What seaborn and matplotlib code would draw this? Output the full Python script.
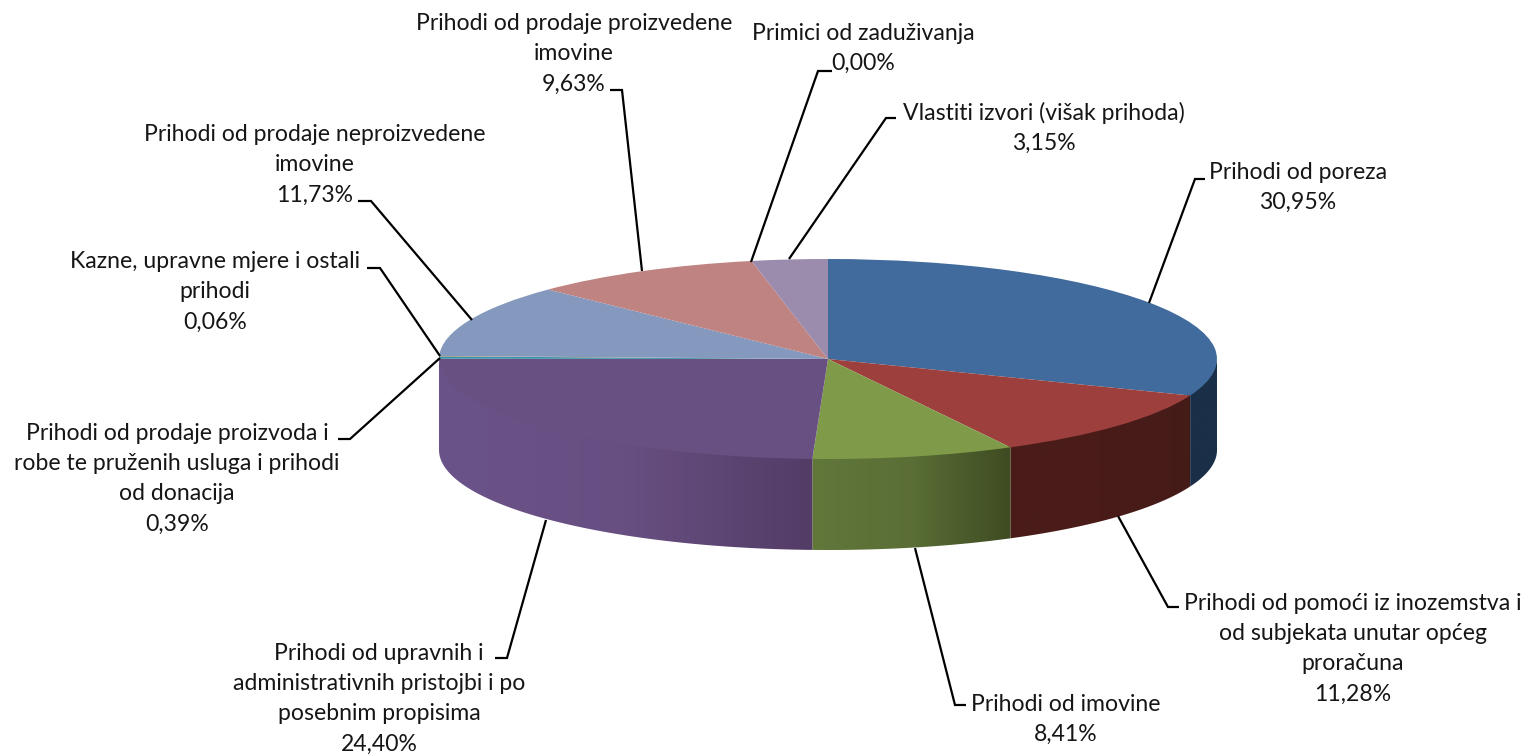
import numpy as np
import matplotlib
matplotlib.use("Agg")
import matplotlib.pyplot as plt
from matplotlib.patches import Polygon
import seaborn as sns

# ---- data ----
names = [
    "Prihodi od poreza",
    "Prihodi od pomoći iz inozemstva i\nod subjekata unutar općeg\nproračuna",
    "Prihodi od imovine",
    "Prihodi od upravnih i\nadministrativnih pristojbi i po\nposebnim propisima",
    "Prihodi od prodaje proizvoda i\nrobe te pruženih usluga i prihodi\nod donacija",
    "Kazne, upravne mjere i ostali\nprihodi",
    "Prihodi od prodaje neproizvedene\nimovine",
    "Prihodi od prodaje proizvedene\nimovine",
    "Primici od zaduživanja",
    "Vlastiti izvori (višak prihoda)",
]
shares = [30.95, 11.28, 8.41, 24.40, 0.39, 0.06, 11.73, 9.63, 0.00, 3.15]

# ---- styles ----
top_colors = ["#406b9c", "#9c3f3d", "#7f9b49", "#695082", "#3a93aa",
              "#db843d", "#8499bd", "#bf8381", "#a4b9d8", "#9b8cae"]
side_left = ["#1a2f48", "#4a1c19", "#62773a", "#6a5389", "#3a93aa",
             "#db843d", "#8499bd", "#bf8381", "#a4b9d8", "#9b8cae"]
side_mid = ["#1a2f48", "#4a1c19", "#5a6e36", "#684f82", "#3a93aa",
            "#db843d", "#8499bd", "#bf8381", "#a4b9d8", "#9b8cae"]
side_right = ["#1a2f48", "#451b18", "#3f4c22", "#533c66", "#3a93aa",
              "#db843d", "#8499bd", "#bf8381", "#a4b9d8", "#9b8cae"]

W, H = 1529, 756
CX, CY, RX, RY, DEPTH = 828.0, 359.0, 389.0, 100.0, 91.0

# label layout in figure pixels: text centre x, first line y
label_pos = [(1298, 172), (1353, 603), (1066, 704), (379, 653), (177, 433),
             (215, 261), (315, 134), (574, 23), (863, 33), (1044, 112)]
leaders = [
    [(1205, 179), (1195, 179), (1149, 303)],
    [(1179, 607), (1168, 607), (1118, 516)],
    [(966, 705), (955, 705), (915, 548)],
    [(495, 658), (507, 658), (546, 520)],
    [(338, 439), (350, 439), (440, 358)],
    [(367, 268), (380, 268), (440, 356)],
    [(358, 201), (371, 201), (472, 320)],
    [(610, 90), (622, 90), (642, 271)],
    [(832, 71), (818, 71), (751, 262)],
    [(896, 118), (886, 118), (789, 259)],
]

sns.set_theme(style="white")
plt.rcParams["font.family"] = ["Lato", "DejaVu Sans"]

fig = plt.figure(figsize=(W / 100, H / 100), dpi=100, facecolor="white")
ax = fig.add_axes([0, 0, 1, 1])

# top face through the library's pie
wedges, _ = ax.pie(shares, colors=top_colors, startangle=90, counterclock=False,
                   radius=1, wedgeprops=dict(linewidth=0, zorder=3))

# side wall computed from the same shares: a gradient clipped to each wall
depth = DEPTH / RY
edges = 90 - np.cumsum([0] + shares) * 3.6
for i in range(len(shares)):
    a0, a1 = edges[i], edges[i + 1]
    lo, hi = max(a1, -180), min(a0, 0)
    if hi <= lo:
        continue
    th = np.radians(np.linspace(hi, lo, 200))
    x, y = np.cos(th), np.sin(th)
    outline = np.r_[np.c_[x, y + 0.02], np.c_[x[::-1], y[::-1] - depth]]
    grad = np.array(sns.blend_palette([side_left[i], side_mid[i], side_right[i]], 128))
    img = ax.imshow(grad[None, :, :], extent=[x.min(), x.max(), -1 - depth, 0],
                    aspect="auto", interpolation="bilinear", zorder=2)
    wall = Polygon(outline, closed=True, transform=ax.transData,
                   facecolor="none", edgecolor="none")
    ax.add_patch(wall)
    img.set_clip_path(wall)

ax.set_aspect("auto")
ax.set_xlim(-CX / RX, (W - CX) / RX)
ax.set_ylim((CY - H) / RY, CY / RY)
ax.set_axis_off()

# overlay in pixel units for labels and leader lines
ov = fig.add_axes([0, 0, 1, 1], facecolor="none")
ov.set_xlim(0, W)
ov.set_ylim(H, 0)
ov.set_axis_off()

for name, val, (tx, ty), pts in zip(names, shares, label_pos, leaders):
    xs, ys = zip(*pts)
    ov.plot(xs, ys, color="black", lw=1.6, solid_capstyle="butt",
            solid_joinstyle="miter")
    text = f"{name}\n{val:.2f}".replace(".", ",") + "%"
    ov.text(tx, ty - 10, text, ha="center", va="top", fontsize=16.6,
            color="#161616", linespacing=1.54)

fig.savefig("out.png", dpi=100, facecolor="white")
